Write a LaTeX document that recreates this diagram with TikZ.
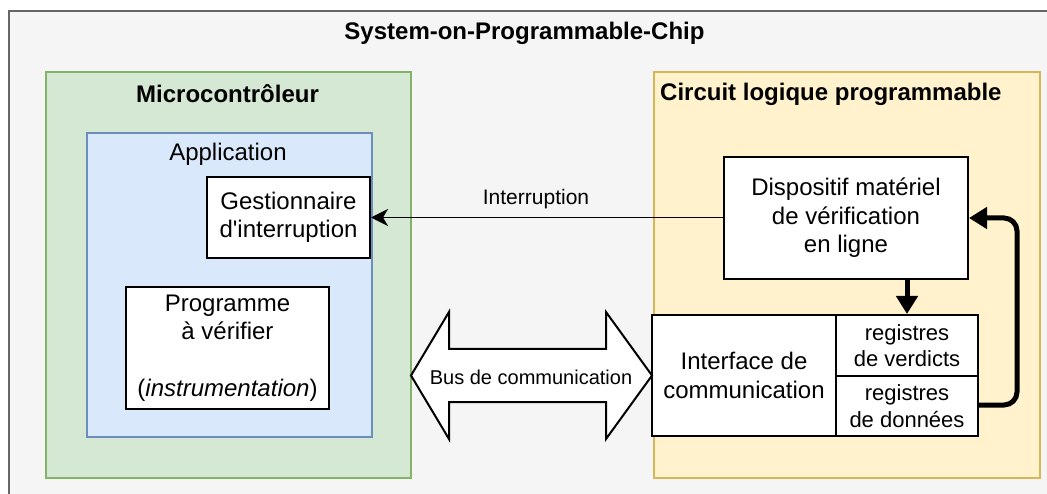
\documentclass[tikz,border=0pt]{standalone}
\usepackage{fontspec}
\setmainfont{Liberation Sans}
\usetikzlibrary{arrows.meta}

\definecolor{socfill}{HTML}{F5F5F5}
\definecolor{socline}{HTML}{666666}
\definecolor{mcufill}{HTML}{D5E8D4}
\definecolor{mculine}{HTML}{82B366}
\definecolor{appfill}{HTML}{DAE8FC}
\definecolor{appline}{HTML}{6C8EBF}
\definecolor{fpgafill}{HTML}{FFF2CC}
\definecolor{fpgaline}{HTML}{D6B656}

\tikzset{
  container/.style={rectangle, inner sep=0pt, line width=2pt, anchor=north west},
  block/.style={rectangle, draw=black, fill=white, line width=2pt, inner sep=0pt, align=center,
    font=\fontsize{24}{28.5}\selectfont},
  regtext/.style={align=center, inner sep=0pt, font=\fontsize{22}{26.5}\selectfont},
  title/.style={inner sep=0pt, font=\fontsize{24}{28}\selectfont\bfseries},
  plain/.style={inner sep=0pt, font=\fontsize{24}{28}\selectfont},
  thinarrow/.style={line width=1.8pt, -{Stealth[length=17pt, width=17pt, inset=5pt]}},
  thickarrow/.style={line width=5pt, -{Triangle[length=18pt, width=21pt]}},
}

\begin{document}
\begin{tikzpicture}[x=1pt, y=-1pt]
\useasboundingbox (0,0) rectangle (1047,494);

% System-on-Programmable-Chip frame (runs past the page on the right and bottom)
\begin{scope}
  \clip (0,0) rectangle (1047,494);
  \node[container, draw=socline, fill=socfill, minimum width=1060pt, minimum height=520pt] (soc) at (8,10) {};
\end{scope}
\node[title] (soctitle) at (524.5,33) {System-on-Programmable-Chip};

% Microcontroller
\node[container, draw=mculine, fill=mcufill, minimum width=365pt, minimum height=406pt] (mcu) at (45,71) {};
\node[title] (mcutitle) at (227.5,94) {Microcontrôleur};

% Application
\node[container, draw=appline, fill=appfill, minimum width=285pt, minimum height=304pt] (app) at (85.5,132) {};
\node[plain] (apptitle) at (228,154) {Application};

\node[block, minimum width=163pt, minimum height=81pt] (gest) at (288.5,217.5)
  {Gestionnaire\\d\textquotesingle interruption};
\node[block, minimum width=203pt, minimum height=122pt] (prog) at (227.5,348)
  {Programme\\à vérifier\\[28.5pt](\textit{instrumentation})};

% Programmable logic
\node[container, draw=fpgaline, fill=fpgafill, minimum width=386pt, minimum height=406pt] (fpga) at (653,71) {};
\node[title, anchor=west] (fpgatitle) at (660,94) {Circuit logique programmable};

\node[block, minimum width=244pt, minimum height=122pt] (mon) at (846,218)
  {Dispositif matériel\\de vérification\\en ligne};

\node[block, minimum width=184pt, minimum height=121pt] (itf) at (744,375.5)
  {Interface de\\communication};
\node[block, minimum width=142pt, minimum height=61pt] (verd) at (907,345.5) {};
\node[block, minimum width=142pt, minimum height=60pt] (data) at (907,406) {};
\node[regtext] (verdtext) at (907,345.5) {registres\\de verdicts};
\node[regtext] (datatext) at (907,406) {registres\\de données};

% Interrupt line
\draw[thinarrow] (mon.west |- gest.east) -- (gest.east);
\node[plain, font=\fontsize{21}{25}\selectfont] (irq) at (536,199) {Interruption};

% Monitor writes verdicts
\draw[thickarrow] (mon.south -| verd.north) -- (verd.north);

% Data registers feed the monitor
\coordinate (loop) at (1017,405);
\draw[thickarrow, rounded corners=13pt] (data.east |- loop) -- (loop) -- (loop |- mon.east) -- (mon.east);

% Communication bus
\coordinate (busl) at (411,375.5);
\coordinate (busr) at (652,375.5);
\draw[line width=2pt, fill=white, line join=miter]
  (busl) -- (449,312) -- (449,349) -- (606,349) -- (606,312) -- (busr)
  -- (606,439) -- (606,402) -- (449,402) -- (449,439) -- cycle;
\node[inner sep=0pt, font=\fontsize{20}{24}\selectfont] (bus) at (531,377) {Bus de communication};

\end{tikzpicture}
\end{document}
